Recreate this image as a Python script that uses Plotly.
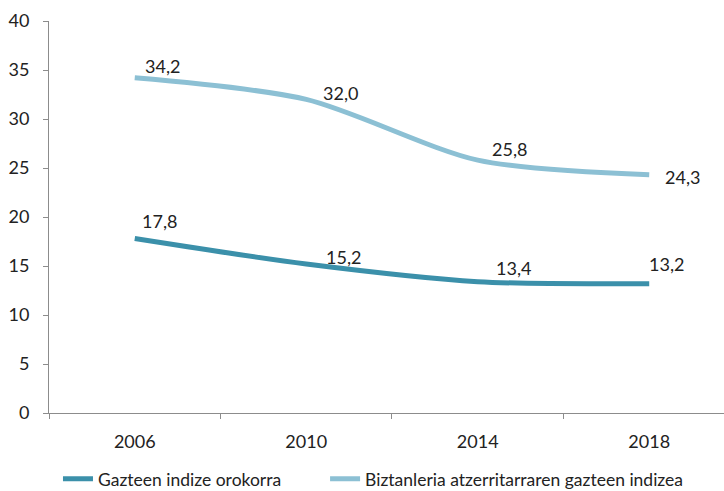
import plotly.graph_objects as go

years = ["2006", "2010", "2014", "2018"]
general = [17.8, 15.2, 13.4, 13.2]
foreign = [34.2, 32.0, 25.8, 24.3]
name_general = "Gazteen indize orokorra"
name_foreign = "Biztanleria atzerritarraren gazteen indizea"
y_ticks = [0, 5, 10, 15, 20, 25, 30, 35, 40]

c_dark = "#3b90aa"
c_light = "#8cc0d4"
FONT = "Lato"
FS = 18

fig = go.Figure()
fig.add_trace(go.Scatter(x=years, y=general, mode="lines", name=name_general,
                         line=dict(color=c_dark, width=5, shape="spline", smoothing=0.8),
                         hoverinfo="skip", legend="legend"))
fig.add_trace(go.Scatter(x=years, y=foreign, mode="lines", name=name_foreign,
                         line=dict(color=c_light, width=5, shape="spline", smoothing=0.8),
                         hoverinfo="skip", legend="legend2"))

def fmt(v):
    return f"{v:.1f}".replace(".", ",")

shift_general = [(25, 18), (37, 7), (36, 14), (17, 20)]
shift_foreign = [(28, 12), (34, 6), (32, 11), (33, -2)]
for vals, shifts in ((general, shift_general), (foreign, shift_foreign)):
    for i, (v, (dx, dy)) in enumerate(zip(vals, shifts)):
        fig.add_annotation(x=i, y=v, xref="x", yref="y", text=fmt(v), showarrow=False,
                           xshift=dx, yshift=dy,
                           font=dict(family=FONT, size=FS, color="#222"))

leg_common = dict(orientation="h", yanchor="middle", y=-0.168, xanchor="left",
                  font=dict(family=FONT, size=17.5, color="#222"),
                  bgcolor="rgba(0,0,0,0)", borderwidth=0)
fig.update_layout(
    width=724, height=491,
    margin=dict(l=49, r=0, t=21, b=78, autoexpand=False),
    paper_bgcolor="white", plot_bgcolor="white",
    font=dict(family=FONT, size=FS, color="#222"),
    showlegend=True,
    legend=dict(x=0.0133, **leg_common),
    legend2=dict(x=0.409, **leg_common),
)
fig.update_xaxes(type="category", range=[-0.5, 3.436], showgrid=False,
                 showline=True, linecolor="#8c8c8c", linewidth=1,
                 ticks="outside", tickson="boundaries", ticklen=5, tickcolor="#8c8c8c",
                 ticklabelstandoff=12, zeroline=False, automargin=False)
fig.update_yaxes(range=[0, 40], tickvals=y_ticks, showgrid=False,
                 showline=True, linecolor="#8c8c8c", linewidth=1,
                 ticks="outside", ticklen=5, tickcolor="#8c8c8c",
                 ticklabelstandoff=10, zeroline=False, automargin=False)

fig.write_html("out.html", config={"displayModeBar": False},
               post_script="document.body.style.margin='0';document.body.style.overflow='hidden';")
